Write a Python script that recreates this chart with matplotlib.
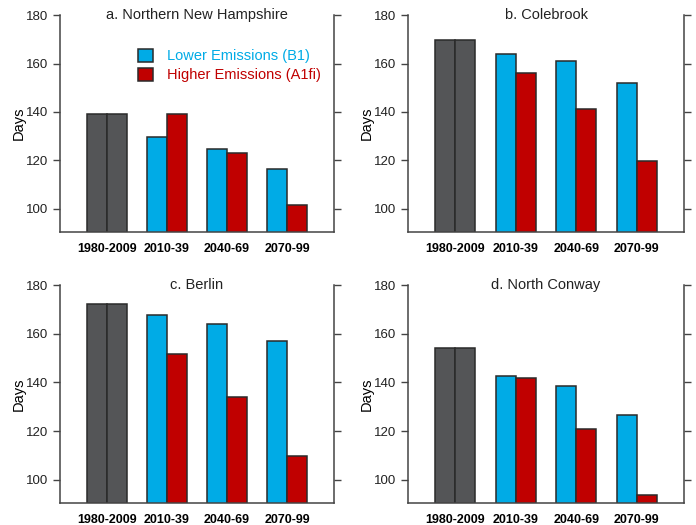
import matplotlib
matplotlib.use("Agg")
import matplotlib.pyplot as plt
import numpy as np
from matplotlib.patches import Patch

plt.rcParams['font.family'] = ['Liberation Sans', 'DejaVu Sans']

periods = ["1980-2009", "2010-39", "2040-69", "2070-99"]
titles = ["a. Northern New Hampshire", "b. Colebrook", "c. Berlin", "d. North Conway"]
baseline = [139.2, 169.7, 172.4, 154.3]
lower_b1 = [
    [129.6, 124.7, 116.6],
    [163.8, 160.9, 151.8],
    [167.5, 163.8, 157.1],
    [142.5, 138.6, 126.6],
]
higher_a1fi = [
    [139.1, 123.0, 101.8],
    [155.9, 141.2, 119.9],
    [151.5, 133.9, 109.8],
    [141.7, 120.8, 93.9],
]

c_gray = "#545557"
c_blue = "#00ABE6"
c_red = "#C00000"
c_edge = "#2a2a2a"
c_axis = "#444444"

fig = plt.figure(figsize=(6.96, 5.25), dpi=100)
positions = [
    [0.0862, 0.5581, 0.3937, 0.4133],
    [0.5862, 0.5581, 0.3966, 0.4133],
    [0.0862, 0.0419, 0.3937, 0.4152],
    [0.5862, 0.0419, 0.3966, 0.4152],
]
w = 1 / 3
for i in range(4):
    ax = fig.add_axes(positions[i])
    x0 = 0
    ax.bar([x0 - w / 2, x0 + w / 2], [baseline[i]] * 2, width=w, color=c_gray,
           edgecolor=c_edge, linewidth=1.1)
    xs = np.arange(1, 4)
    ax.bar(xs - w / 2, lower_b1[i], width=w, color=c_blue, edgecolor=c_edge, linewidth=1.1)
    ax.bar(xs + w / 2, higher_a1fi[i], width=w, color=c_red, edgecolor=c_edge, linewidth=1.1)
    ax.set_xlim(-0.78, 3.78)
    ax.set_ylim(90.5, 180)
    ax.set_yticks([100, 120, 140, 160, 180])
    ax.set_xticks(range(4))
    ax.set_xticklabels(periods, fontweight="bold", fontsize=9)
    ax.tick_params(axis="x", length=0, pad=8)
    ax.tick_params(axis="y", direction="out", length=5, width=1.0, color=c_axis,
                   labelsize=9.5, right=True, labelright=False, labelcolor="#222222")
    for s in ["left", "right", "bottom"]:
        ax.spines[s].set_color(c_axis)
        ax.spines[s].set_linewidth(1.1)
    ax.spines["top"].set_visible(False)
    ax.set_ylabel("Days", fontsize=10.5, labelpad=0)
    ax.text(0.5, 1.0, titles[i], transform=ax.transAxes, ha="center", va="center",
            fontsize=10.5, color="#222222")
    if i == 0:
        handles = [Patch(facecolor=c_blue, edgecolor=c_edge, linewidth=1.1),
                   Patch(facecolor=c_red, edgecolor=c_edge, linewidth=1.1)]
        leg = ax.legend(handles, ["Lower Emissions (B1)", "Higher Emissions (A1fi)"],
                        loc="upper left", bbox_to_anchor=(0.285, 0.845), frameon=False,
                        fontsize=10.5, handlelength=1.0, handleheight=1.0,
                        handletextpad=1.0, borderpad=0, borderaxespad=0, labelspacing=0.3)
        for t, c in zip(leg.get_texts(), [c_blue, c_red]):
            t.set_color(c)

fig.savefig("out.png", dpi=100)
